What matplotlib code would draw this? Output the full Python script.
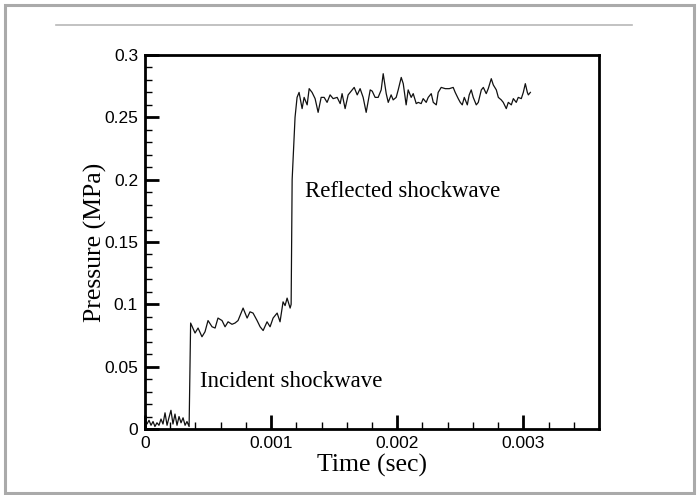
import matplotlib
matplotlib.use("Agg")
import matplotlib.pyplot as plt
import numpy as np
from matplotlib.patches import Rectangle
from matplotlib.lines import Line2D

# pressure trace, time in ms
time_ms = [0.000, 0.016, 0.032, 0.048, 0.064, 0.079, 0.095, 0.111, 0.127, 0.143,
           0.159, 0.175, 0.190, 0.206, 0.222, 0.238, 0.254, 0.270, 0.286, 0.302,
           0.318, 0.333, 0.350,
           0.362, 0.397, 0.421, 0.452, 0.476, 0.500, 0.532, 0.556, 0.579, 0.611,
           0.635, 0.659, 0.690, 0.714, 0.738, 0.778, 0.810, 0.833, 0.857, 0.889,
           0.913, 0.937, 0.968, 0.992, 1.016, 1.048, 1.071, 1.095, 1.111, 1.127,
           1.151, 1.159, 1.167, 1.190, 1.206,
           1.222, 1.246, 1.262, 1.286, 1.302, 1.325, 1.349, 1.373, 1.397, 1.421,
           1.444, 1.468, 1.492, 1.524, 1.548, 1.563, 1.587, 1.611, 1.643, 1.659,
           1.683, 1.706, 1.730, 1.754, 1.786, 1.802, 1.825, 1.849, 1.873, 1.889,
           1.913, 1.929, 1.952, 1.968, 1.992, 2.008, 2.032, 2.048, 2.071, 2.087,
           2.111, 2.127, 2.151, 2.167, 2.190, 2.206, 2.230, 2.246, 2.270, 2.286,
           2.310, 2.325, 2.349, 2.381, 2.413, 2.444, 2.460, 2.484, 2.500, 2.516,
           2.532, 2.556, 2.571, 2.587, 2.603, 2.627, 2.643, 2.667, 2.683, 2.706,
           2.722, 2.746, 2.762, 2.786, 2.802, 2.825, 2.841, 2.865, 2.881, 2.905,
           2.921, 2.944, 2.960, 2.984, 3.000, 3.016, 3.032, 3.040, 3.056]

pressure = [0.008, 0.004, 0.007, 0.003, 0.006, 0.002, 0.005, 0.003, 0.008, 0.004,
            0.013, 0.003, 0.009, 0.015, 0.004, 0.012, 0.003, 0.010, 0.005, 0.009,
            0.003, 0.006, 0.002,
            0.085, 0.077, 0.081, 0.074, 0.078, 0.087, 0.082, 0.081, 0.089, 0.087,
            0.082, 0.086, 0.084, 0.085, 0.087, 0.097, 0.089, 0.094, 0.093, 0.087,
            0.082, 0.079, 0.086, 0.082, 0.089, 0.093, 0.086, 0.102, 0.099, 0.105,
            0.097, 0.100, 0.200, 0.250, 0.266,
            0.270, 0.257, 0.266, 0.260, 0.273, 0.270, 0.265, 0.254, 0.266, 0.266,
            0.262, 0.268, 0.265, 0.266, 0.261, 0.269, 0.257, 0.268, 0.272, 0.274,
            0.268, 0.273, 0.266, 0.254, 0.272, 0.271, 0.266, 0.266, 0.272, 0.285,
            0.269, 0.262, 0.268, 0.264, 0.266, 0.272, 0.282, 0.277, 0.260, 0.272,
            0.266, 0.269, 0.261, 0.262, 0.261, 0.265, 0.262, 0.266, 0.269, 0.262,
            0.260, 0.270, 0.274, 0.273, 0.273, 0.274, 0.270, 0.265, 0.262, 0.260,
            0.266, 0.260, 0.268, 0.272, 0.266, 0.260, 0.262, 0.272, 0.274, 0.269,
            0.273, 0.281, 0.276, 0.272, 0.266, 0.264, 0.262, 0.257, 0.262, 0.260,
            0.265, 0.262, 0.266, 0.265, 0.270, 0.277, 0.270, 0.268, 0.270]

xticks = [0, 0.001, 0.002, 0.003]
xticklabels = ['0', '0.001', '0.002', '0.003']
yticks = [0, 0.05, 0.1, 0.15, 0.2, 0.25, 0.3]
yticklabels = ['0', '0.05', '0.1', '0.15', '0.2', '0.25', '0.3']

t = np.array(time_ms) / 1000.0
p = np.array(pressure)

serif = 'Liberation Serif'
sans = 'Liberation Sans'

fig = plt.figure(figsize=(6.99, 4.95), dpi=100)
ax = fig.add_axes([0.2074, 0.1333, 0.6495, 0.7556])

ax.plot(t, p, color='#111111', lw=0.9)

ax.set_xlim(0, 0.0036)
ax.set_ylim(0, 0.3)
ax.set_xticks(xticks)
ax.set_xticklabels(xticklabels, fontfamily=sans, fontsize=12.5)
ax.set_yticks(yticks)
ax.set_yticklabels(yticklabels, fontfamily=sans, fontsize=12.5)
ax.set_xticks(np.arange(0, 0.0036, 0.0002), minor=True)
ax.set_yticks(np.arange(0, 0.3, 0.01), minor=True)
ax.tick_params(which='major', direction='in', length=10, width=2, pad=5)
ax.tick_params(which='minor', direction='in', length=5, width=1)
for s in ax.spines.values():
    s.set_linewidth(2)

ax.set_xlabel('Time (sec)', fontfamily=serif, fontsize=18.5, labelpad=2)
ax.set_ylabel('Pressure (MPa)', fontfamily=serif, fontsize=18.5, labelpad=-2)

ax.text(0.00127, 0.186, 'Reflected shockwave', fontfamily=serif, fontsize=16.5,
        va='baseline', ha='left')
ax.text(0.000437, 0.034, 'Incident shockwave', fontfamily=serif, fontsize=16.5,
        va='baseline', ha='left')

# grey outer frame and the rule near the top
fig.patches.append(Rectangle((0.007, 0.004), 0.986, 0.986, transform=fig.transFigure,
                             fill=False, edgecolor='#aaaaaa', lw=2.2))
fig.lines.append(Line2D([0.080, 0.904], [0.9495, 0.9495], transform=fig.transFigure,
                        color='#b8b8b8', lw=1.2))

fig.savefig('out.png', dpi=100)
